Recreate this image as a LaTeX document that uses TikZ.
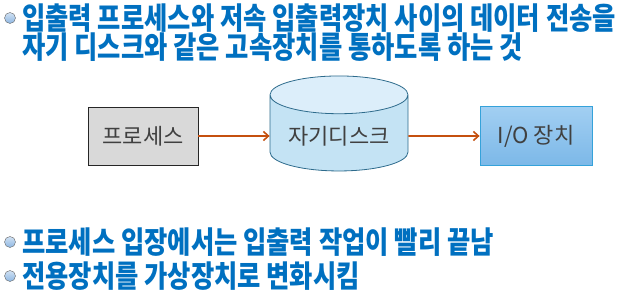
\documentclass[tikz,border=0pt]{standalone}
\usepackage{fontspec}
\newfontfamily\kr{Noto Sans CJK KR}
\newfontfamily\krhead[FakeStretch=0.83,BoldFont={* Black}]{Noto Sans CJK KR}
\usetikzlibrary{shapes.geometric, arrows.meta}
\definecolor{headblue}{HTML}{0070C0}
\definecolor{dotblue}{HTML}{8DB6E2}
\definecolor{arrowred}{HTML}{C5500F}
\definecolor{diskfill}{HTML}{C4E3F4}
\definecolor{disktop}{HTML}{DCEEFA}
\definecolor{diskline}{HTML}{2D6B8C}
\definecolor{iotop}{HTML}{A2CFF2}
\definecolor{iobottom}{HTML}{7CB8E8}
\definecolor{ioline}{HTML}{35A2DA}
\definecolor{labelgray}{HTML}{404040}

\begin{document}
\begin{tikzpicture}[x=1pt, y=-1pt,
    point/.style={circle, draw=gray!80!black, thin, inner sep=0pt, minimum size=11pt,
                  top color=white!60!dotblue, bottom color=dotblue},
    headline/.style={anchor=west, inner sep=0pt, text=headblue,
                     font=\krhead\bfseries\fontsize{30.5}{32}\selectfont},
    boxlabel/.style={text=labelgray, font=\kr\fontsize{22}{24}\selectfont},
    flow/.style={arrowred, line width=1.6pt, -{Straight Barb[length=5pt, width=9pt]}}
  ]
    \useasboundingbox (0,0) rectangle (623,294);

    % 1. Felsorolás fent
    \node[point] (p1) at (10,18) {};
    \node[headline] (h1) at (22,18) {입출력 프로세스와 저속 입출력장치 사이의 데이터 전송을};
    \node[headline] (h2) at (22,47) {자기 디스크와 같은 고속장치를 통하도록 하는 것};

    % 2. Dobozok
    \node[boxlabel, draw=gray!30!black, fill=gray!30, thick,
          minimum width=110pt, minimum height=58pt] (proc) at (143,136) {프로세스};
    \node[boxlabel, cylinder, shape border rotate=90, aspect=0.35,
          draw=diskline, thick, cylinder uses custom fill,
          cylinder body fill=diskfill, cylinder end fill=disktop,
          minimum width=138pt, minimum height=95pt] (disk) at (339,136) {자기디스크};
    \node[boxlabel, draw=ioline, thick, top color=iotop, bottom color=iobottom,
          minimum width=112pt, minimum height=59pt] (io) at (536,136) {I/O 장치};

    % 3. Nyilak
    \draw[flow] (proc) -- (disk);
    \draw[flow] (disk) -- (io);

    % 4. Felsorolás lent
    \node[point] (p2) at (10,242) {};
    \node[headline] (h3) at (22,242) {프로세스 입장에서는 입출력 작업이 빨리 끝남};
    \node[point] (p3) at (10,276) {};
    \node[headline] (h4) at (22,276) {전용장치를 가상장치로 변화시킴};
\end{tikzpicture}
\end{document}
